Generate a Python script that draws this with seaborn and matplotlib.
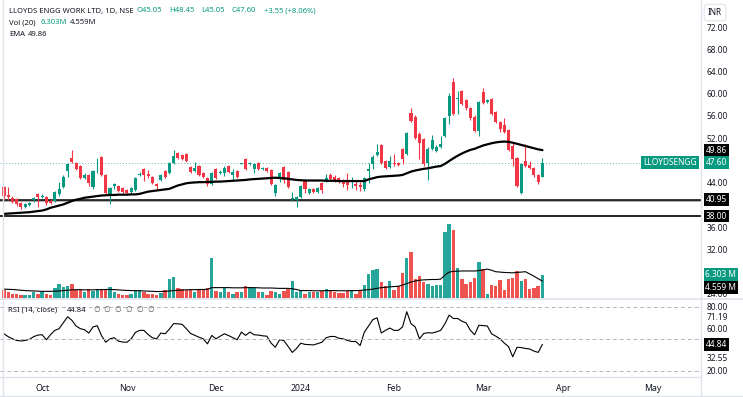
import numpy as np
import matplotlib
matplotlib.use("Agg")
import matplotlib.pyplot as plt
import matplotlib.transforms as mtransforms
import seaborn as sns

# ---- data (daily bars, Sep 2023 - 22 Mar 2024) ----
opens = [43.3, 41.8, 41.3, 41.0, 40.3, 39.6, 40.0, 40.9, 41.9, 41.5,
         41.5, 40.8, 40.8, 41.9, 43.3, 46.1, 48.4, 47.6, 47.0, 44.8,
         45.4, 43.3, 46.8, 48.7, 45.3, 41.9, 43.4, 43.4, 43.0, 42.7,
         42.4, 42.7, 45.4, 46.4, 45.5, 45.0, 43.8, 44.5, 46.1, 45.8,
         47.6, 49.3, 49.0, 49.1, 46.8, 46.1, 47.0, 45.8, 44.8, 43.8,
         46.4, 45.8, 45.8, 47.0, 45.4, 46.1, 47.4, 48.2, 47.3, 46.4,
         47.6, 46.4, 46.7, 46.2, 42.2, 44.9, 46.8, 45.9, 41.0, 40.9,
         41.4, 44.4, 42.2, 42.8, 42.4, 43.9, 44.3, 45.4, 45.1, 44.8,
         44.5, 44.5, 43.7, 43.7, 43.6, 42.8, 46.1, 47.3, 49.0, 50.8,
         47.9, 46.9, 47.6, 47.6, 50.0, 49.1, 56.55, 55.9, 52.85, 51.8,
         47.6, 50.05, 49.75, 50.5, 52.35, 56.05, 62.1, 59.1, 60.45, 58.9,
         57.35, 55.9, 53.35, 60.25, 58.5, 59.1, 56.65, 54.9, 54.3, 53.45,
         50.6, 48.5, 42.1, 47.9, 47.1, 46.7, 45.4, 45.05]
highs = [43.5, 43.3, 41.6, 41.2, 40.6, 40.3, 40.6, 41.5, 42.1, 41.9,
         41.7, 41.0, 42.6, 44.2, 45.3, 47.6, 49.9, 47.8, 47.2, 45.8,
         45.6, 46.3, 48.5, 48.8, 45.5, 43.2, 44.0, 43.6, 43.2, 42.9,
         43.2, 45.0, 45.9, 46.6, 46.2, 45.2, 44.0, 45.6, 46.3, 47.7,
         49.8, 49.5, 49.2, 49.3, 47.0, 47.7, 47.2, 46.0, 45.0, 46.0,
         46.6, 46.3, 47.0, 47.2, 46.4, 46.3, 47.6, 48.5, 47.7, 47.6,
         47.8, 46.9, 46.9, 46.4, 43.8, 46.0, 47.0, 46.1, 42.4, 41.6,
         43.6, 44.6, 43.0, 43.0, 43.3, 44.2, 45.6, 45.7, 45.3, 45.0,
         44.7, 45.7, 45.0, 44.5, 44.2, 45.0, 47.6, 48.9, 50.9, 50.9,
         48.1, 48.8, 49.1, 47.8, 50.2, 53.15, 57.5, 56.1, 53.05, 52.0,
         50.5, 52.65, 50.8, 52.35, 55.9, 60.15, 62.9, 60.45, 60.65, 59.1,
         57.55, 56.1, 58.7, 60.95, 59.1, 59.3, 56.85, 55.1, 55.7, 53.65,
         51.1, 48.7, 47.6, 50.9, 47.9, 46.9, 45.6, 48.45]
lows = [41.0, 40.9, 40.4, 39.9, 39.3, 39.4, 39.8, 40.6, 39.6, 41.2,
        40.0, 40.1, 40.6, 41.6, 43.1, 45.0, 47.5, 46.2, 44.6, 44.6,
        43.5, 42.8, 45.8, 45.2, 42.0, 40.2, 42.8, 42.3, 42.2, 41.9,
        42.2, 42.5, 45.2, 44.4, 44.9, 43.7, 42.9, 44.3, 44.9, 45.6,
        47.4, 48.3, 48.0, 47.7, 45.7, 45.9, 45.2, 44.9, 43.4, 43.6,
        44.6, 45.5, 45.2, 45.7, 44.5, 44.8, 47.3, 46.2, 47.1, 45.8,
        46.2, 46.2, 45.9, 43.6, 41.7, 44.1, 43.9, 43.1, 40.8, 39.6,
        41.2, 42.1, 42.0, 42.1, 42.2, 42.2, 44.1, 44.4, 44.2, 44.0,
        43.2, 42.7, 43.0, 42.7, 42.5, 42.6, 43.9, 46.4, 48.8, 47.4,
        46.5, 46.7, 47.0, 47.0, 47.3, 48.9, 54.9, 51.9, 48.2, 47.0,
        44.5, 49.85, 49.55, 50.3, 52.15, 54.5, 56.1, 56.3, 57.9, 57.15,
        55.3, 53.15, 52.4, 58.2, 58.3, 56.1, 54.7, 53.05, 52.95, 49.65,
        47.0, 43.2, 42.0, 46.8, 46.5, 45.1, 43.8, 45.05]
closes = [41.7, 41.4, 40.6, 40.1, 39.7, 40.1, 40.3, 41.2, 41.4, 41.6,
          40.3, 40.3, 42.4, 42.8, 45.1, 47.3, 47.7, 46.4, 44.8, 45.4,
          44.0, 46.1, 46.9, 45.3, 42.2, 43.0, 43.8, 42.5, 42.4, 42.1,
          43.0, 44.8, 45.6, 45.4, 45.2, 43.9, 43.4, 45.4, 45.1, 47.5,
          48.8, 48.5, 48.2, 47.9, 45.9, 46.7, 45.4, 45.1, 43.8, 45.8,
          44.8, 45.9, 46.7, 45.9, 45.9, 45.0, 47.5, 46.4, 47.5, 47.3,
          46.4, 46.7, 46.1, 43.8, 43.6, 45.8, 44.5, 43.3, 41.3, 41.4,
          43.4, 42.8, 42.8, 42.3, 43.1, 42.7, 44.9, 44.6, 44.4, 44.2,
          43.7, 43.6, 43.8, 43.5, 43.3, 44.8, 46.5, 48.7, 49.5, 47.6,
          46.7, 47.9, 47.3, 47.2, 48.2, 52.95, 55.1, 52.1, 51.2, 47.3,
          50.05, 51.7, 50.5, 50.9, 55.7, 59.55, 56.3, 59.3, 58.1, 57.35,
          55.7, 53.35, 58.5, 58.4, 58.9, 56.3, 54.9, 53.65, 53.15, 49.85,
          48.2, 43.4, 47.4, 47.0, 46.7, 45.3, 44.05, 47.60]
volume_m = [2.25, 1.5, 1.2, 1.2, 0.9, 0.9, 0.9, 1.5, 1.2, 1.5,
            1.2, 0.9, 2.8, 3.9, 3.0, 3.2, 3.9, 2.25, 2.1, 1.5,
            2.4, 1.8, 2.4, 2.1, 2.25, 3.1, 1.5, 1.2, 0.8, 0.9,
            1.2, 1.8, 2.1, 1.5, 1.1, 1.2, 0.8, 1.35, 2.25, 5.2,
            5.8, 2.8, 2.4, 2.1, 2.1, 1.5, 2.1, 2.4, 2.8, 10.8,
            1.8, 1.5, 2.6, 1.5, 1.2, 1.5, 1.5, 3.2, 3.0, 2.6,
            1.5, 1.5, 0.9, 1.8, 1.5, 1.2, 1.8, 2.4, 4.7, 1.5,
            1.8, 1.2, 1.5, 1.5, 1.5, 1.8, 2.5, 1.8, 1.5, 1.35,
            1.35, 1.9, 1.9, 1.2, 1.8, 3.6, 6.4, 7.6, 7.8, 4.2,
            3.2, 4.5, 2.25, 3.2, 6.8, 10.9, 12.5, 5.1, 5.9, 4.2,
            3.9, 3.2, 3.5, 3.5, 17.7, 20.1, 18.5, 8.2, 5.0, 3.9,
            4.2, 5.3, 9.8, 7.7, 1.1, 3.5, 3.2, 4.9, 2.25, 5.0,
            5.4, 7.3, 4.5, 5.1, 2.4, 2.7, 3.3, 6.303]
vol_ma_m = [2.4, 2.35, 2.3, 2.2, 2.1, 2.0, 1.95, 1.9, 1.85, 1.8,
            1.8, 1.8, 1.85, 1.9, 2.0, 2.1, 2.2, 2.25, 2.25, 2.2,
            2.2, 2.2, 2.25, 2.25, 2.3, 2.3, 2.25, 2.2, 2.1, 2.05,
            2.0, 2.0, 1.95, 1.9, 1.85, 1.8, 1.75, 1.75, 1.8, 1.9,
            2.0, 2.1, 2.15, 2.2, 2.25, 2.25, 2.3, 2.3, 2.35, 2.8,
            2.8, 2.8, 2.8, 2.8, 2.75, 2.75, 2.75, 2.8, 2.8, 2.8,
            2.75, 2.7, 2.7, 2.7, 2.65, 2.6, 2.6, 2.6, 2.5, 2.3,
            2.0, 2.0, 2.0, 1.95, 1.95, 1.95, 2.0, 2.0, 2.0, 1.95,
            1.95, 1.95, 2.0, 2.0, 2.05, 2.15, 2.25, 2.4, 2.6, 2.8,
            2.9, 3.0, 3.1, 3.15, 3.5, 3.9, 4.3, 4.6, 4.8, 4.9,
            4.95, 5.0, 5.0, 5.1, 6.2, 7.0, 7.2, 7.25, 7.3, 7.3,
            7.3, 7.3, 7.4, 7.6, 7.8, 7.5, 7.1, 7.0, 6.9, 6.85,
            6.8, 6.9, 7.0, 7.1, 6.5, 5.9, 5.2, 4.559]
ema_vals = [38.4, 38.45, 38.5, 38.55, 38.6, 38.65, 38.7, 38.8, 38.9, 39.0,
            39.2, 39.5, 39.7, 39.9, 40.1, 40.4, 40.7, 40.95, 41.1, 41.3,
            41.4, 41.5, 41.6, 41.7, 41.75, 41.8, 41.8, 41.85, 41.85, 41.85,
            41.9, 41.9, 42.0, 42.2, 42.4, 42.5, 42.6, 42.7, 42.8, 42.9,
            43.2, 43.5, 43.7, 43.9, 44.0, 44.05, 44.1, 44.1, 44.15, 44.15,
            44.2, 44.2, 44.25, 44.3, 44.35, 44.4, 44.45, 44.5, 44.6, 44.65,
            44.7, 44.75, 44.8, 44.85, 44.9, 44.85, 44.8, 44.7, 44.6, 44.5,
            44.45, 44.4, 44.4, 44.4, 44.4, 44.4, 44.35, 44.35, 44.35, 44.3,
            44.3, 44.3, 44.3, 44.3, 44.3, 44.3, 44.6, 44.8, 45.0, 45.1,
            45.15, 45.2, 45.25, 45.3, 45.4, 45.7, 46.0, 46.2, 46.35, 46.5,
            46.6, 46.75, 46.9, 47.0, 47.4, 47.9, 48.4, 48.85, 49.25, 49.6,
            49.9, 50.1, 50.4, 50.7, 50.9, 51.1, 51.25, 51.35, 51.4, 51.35,
            51.2, 51.0, 50.8, 50.6, 50.4, 50.2, 50.0, 49.86]
rsi_vals = [54.7, 52, 50, 48.5, 48, 48.5, 49.5, 52, 53.5, 53.8,
            49.1, 54, 57.9, 59.5, 65, 70.6, 67.4, 62, 59.5, 58.5,
            55.4, 61.1, 62.3, 53, 46.8, 50, 51, 47.8, 47, 46.8,
            50, 56, 57.9, 57.9, 54, 51, 50, 55.4, 54.7, 59,
            64.2, 64, 63.6, 59.5, 55, 53.2, 51.5, 50, 45.3, 53.2,
            50, 52.5, 54.7, 53, 51, 49.1, 56.3, 53.2, 56.3, 53.8,
            53.5, 52.8, 52.5, 46, 42.1, 49.1, 48.4, 43, 37.3, 41,
            45.9, 44.8, 44.5, 44.3, 45.5, 46.8, 51, 52.2, 52.2, 50.5,
            50, 48.5, 47.5, 47.5, 43.7, 56.3, 62, 68, 69.6, 55.4,
            58, 60.1, 57.9, 57.9, 61.1, 75.3, 64.2, 61.1, 50, 55,
            55.7, 55.4, 56.5, 57.9, 64, 72.2, 69, 69, 66.5, 64.9,
            58, 53.8, 62.7, 62.3, 62, 54.7, 52.5, 50, 46, 42.7,
            33.2, 42.1, 41.8, 41, 40.5, 38.5, 37.3, 44.84]

month_labels = ['Oct', 'Nov', 'Dec', '2024', 'Feb', 'Mar', 'Apr', 'May']
month_idx = [9, 29, 50, 70, 92, 113, 132, 153]
price_ticks = [24, 32, 36, 44, 52, 56, 60, 64, 68, 72]
rsi_ticks = [20, 32.55, 60, 71.19, 80]
rsi_bands = [80, 50, 20]
level_lines = [40.95, 38.00]

UP, DOWN = '#089981', '#F23645'
VUP, VDOWN = '#26A69A', '#EF5350'
TXT = '#131722'
SEP = '#e0e3eb'

sns.set_theme(style='white')
plt.rcParams['font.family'] = ['Noto Sans', 'DejaVu Sans']

W, H = 743, 397
fig = plt.figure(figsize=(W / 100, H / 100), dpi=100)
fig.patch.set_facecolor('white')
pw = 701 / W
ax = fig.add_axes([0, 1 - 298 / H, pw, 298 / H])
vax = fig.add_axes([0, 1 - 298 / H, pw, 298 / H], sharex=ax, facecolor='none')
rax = fig.add_axes([0, 1 - 377 / H, pw, 77 / H], sharex=ax)
vax.set_zorder(0)
ax.set_zorder(1)
ax.patch.set_visible(False)

bars = np.arange(len(closes))
o, h, l, c = map(np.array, (opens, highs, lows, closes))
up = c >= o
cols = np.where(up, UP, DOWN)

# volume overlay
vcols = np.where(up, VUP, VDOWN)
vax.bar(bars, volume_m, width=0.8, color=vcols, linewidth=0)
sns.lineplot(x=bars, y=vol_ma_m, ax=vax, color='black', linewidth=0.8)
vax.set_ylim(0, 80.5)
vax.axis('off')

# candles
ax.vlines(bars, l, h, colors=cols, linewidth=0.8, zorder=3)
body_lo = np.minimum(o, c)
body_h = np.maximum(np.abs(c - o), 0.07)
ax.bar(bars, body_h, bottom=body_lo, width=0.72, color=cols, linewidth=0, zorder=4)
sns.lineplot(x=bars, y=ema_vals, ax=ax, color='black', linewidth=1.6, zorder=5)

ax.axhline(level_lines[0] - 0.22, color='#9a9a9a', linewidth=1.1, zorder=2)
ax.axhline(level_lines[0], color='black', linewidth=1.1, zorder=2)
ax.axhline(level_lines[1], color='black', linewidth=1.2, zorder=2)
ax.axhline(closes[-1], color=UP, linestyle=(0, (1, 2)), linewidth=0.7, alpha=0.6, zorder=1)

ax.set_xlim(-0.94, 164.4)
ax.set_ylim(23.27, 76.86)
ax.yaxis.tick_right()
ax.set_yticks(price_ticks)
ax.set_yticklabels([f'{v:.2f}' for v in price_ticks])
ax.tick_params(axis='y', length=0, pad=4, labelsize=6, labelcolor=TXT)
ax.tick_params(axis='x', length=0, labelbottom=False)
for s in ('top', 'left', 'right', 'bottom'):
    ax.spines[s].set_visible(False)

# RSI pane
sns.lineplot(x=bars, y=rsi_vals, ax=rax, color='black', linewidth=0.8)
for lv in rsi_bands:
    rax.axhline(lv, color='#b2b5be', linestyle=(0, (4, 3)), linewidth=0.7)
rax.set_ylim(14.3, 86.3)
rax.yaxis.tick_right()
rax.set_yticks(rsi_ticks)
rax.set_yticklabels([f'{v:.2f}' for v in rsi_ticks])
rax.set_xticks(month_idx)
rax.set_xticklabels(month_labels)
for t in rax.get_xticklabels():
    if t.get_text() == '2024':
        t.set_fontweight('bold')
rax.tick_params(axis='y', length=0, pad=4, labelsize=6, labelcolor=TXT)
rax.tick_params(axis='x', length=0, pad=5, labelsize=6.3, labelcolor=TXT)
for s in ('top', 'left', 'right', 'bottom'):
    rax.spines[s].set_visible(False)
rax.set_xlim(-0.94, 164.4)


def tag(axis, yval, text, fc, dy=0, ytrans=None):
    tr = axis.get_yaxis_transform() if ytrans is None else \
        mtransforms.blended_transform_factory(axis.transAxes, ytrans)
    axis.annotate(text, xy=(1, yval), xycoords=tr,
                  xytext=(3.2, dy), textcoords='offset points', ha='left', va='center',
                  color='white', fontsize=6, annotation_clip=False, zorder=10,
                  bbox=dict(boxstyle='square,pad=0.22', fc=fc, ec='none'))


tag(ax, ema_vals[-1], f'{ema_vals[-1]:.2f}', 'black')
tag(ax, closes[-1], f'{closes[-1]:.2f}', UP)
tag(ax, level_lines[0], f'{level_lines[0]:.2f}', 'black')
tag(ax, level_lines[1], f'{level_lines[1]:.2f}', 'black')
tag(ax, volume_m[-1], f'{volume_m[-1]:.3f} M', UP, ytrans=vax.transData)
tag(ax, vol_ma_m[-1], f'{vol_ma_m[-1]:.3f} M', 'black', dy=-4.5, ytrans=vax.transData)
tag(rax, rsi_vals[-1], f'{rsi_vals[-1]:.2f}', 'black')
ax.annotate('LLOYDSENGG', xy=(1, closes[-1]), xycoords=ax.get_yaxis_transform(),
            xytext=(-3, 0), textcoords='offset points', ha='right', va='center',
            color='white', fontsize=6, annotation_clip=False, zorder=10,
            bbox=dict(boxstyle='square,pad=0.25', fc=UP, ec='none'))


def P(x, y):
    return x / W, 1 - y / H


renderer = fig.canvas.get_renderer()


def row(items, y, fs=5.5):
    # each item: (reference x, text, colour); never let one run into the next
    end = 0
    for xx, s, col in items:
        xx = max(xx, end + 3)
        t = fig.text(*P(xx, y), s, fontsize=fs, color=col, va='center',
                     family=['Noto Sans', 'DejaVu Sans'])
        bb = t.get_window_extent(renderer)
        end = bb.x1


row([(9, 'LLOYDS ENGG WORK LTD, 1D, NSE', TXT), (135, 'O45.05', UP), (169, 'H48.45', UP),
     (201, 'L45.05', UP), (231, 'C47.60', UP), (264, '+3.55 (+8.06%)', UP)], 11)
row([(9, 'Vol (20)', TXT), (41, '6.303M', UP), (70, '4.559M', TXT)], 23)
row([(9, 'EMA', TXT), (28, '49.86', TXT)], 35)
row([(8, 'RSI (14, close)', TXT), (67, '44.84', TXT)] +
    [(93 + 10.8 * k, '\u2205', '#555555') for k in range(6)], 310)

# INR box
fig.text(*P(715, 12.5), 'INR', fontsize=6, color=TXT, ha='center', va='center',
         bbox=dict(boxstyle='round,pad=0.45,rounding_size=0.4', fc='white', ec=SEP, lw=0.8))

# pane separators / borders
fig.add_artist(plt.Line2D([pw, pw], [0, 1], color=SEP, lw=1))
fig.add_artist(plt.Line2D([0, 1], [1 - 299 / H] * 2, color=SEP, lw=1.2))
fig.add_artist(plt.Line2D([0, pw], [1 - 377 / H] * 2, color=SEP, lw=1))
fig.add_artist(plt.Line2D([2.5 / W] * 2, [0, 1], color=SEP, lw=1))
fig.add_artist(plt.Line2D([0, 1], [1 - 396 / H] * 2, color=SEP, lw=1))

fig.savefig('out.png', dpi=100)
